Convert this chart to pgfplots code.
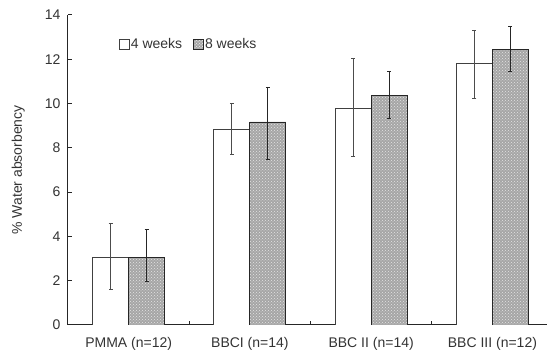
\documentclass[border=0pt]{standalone}
\usepackage{fontspec}
\setmainfont{Liberation Sans}
\usepackage{pgfplots}
\pgfplotsset{compat=1.18}
\usetikzlibrary{patterns}
\begin{document}
\begin{tikzpicture}
\begin{axis}[
  scale only axis, width=479pt, height=310pt,
  xmin=-0.5, xmax=3.45, ymin=0, ymax=14,
  axis lines*=left,
  axis line style={line width=1pt, black!85},
  ybar=0pt, bar width=36pt,
  xtick={0,1,2,3},
  xticklabels={PMMA (n=12), BBCI (n=14), BBC II (n=14), BBC III (n=12)},
  minor xtick={0.5,1.5,2.5},
  ytick={0,2,...,14},
  tick align=inside,
  major x tick style={draw=none},
  tick style={black!85, line width=1pt},
  major tick length=4pt, minor tick length=4pt,
  /pgf/number format/assume math mode=true,
  tick label style={font=\fontsize{14}{17}\selectfont, text=black!80},
  yticklabel style={xshift=-4pt},
  xticklabel style={yshift=-9pt},
  ylabel={\% Water absorbency},
  ylabel style={at={(axis description cs:-0.104,0.5)}, anchor=center, font=\fontsize{14}{17}\selectfont, text=black!80},
  legend style={at={(axis description cs:0.1,0.905)}, anchor=west, legend columns=2, draw=none, fill=none,
    font=\fontsize{14}{17}\selectfont, text=black!80,
    /tikz/every even column/.append style={column sep=10pt},
    nodes={inner sep=1pt}},
  error bars/y dir=both, error bars/y explicit,
]
\addplot[fill=white, draw=black!75, line width=0.8pt,
  legend image code/.code={\draw[fill=white, draw=black!75, line width=0.8pt] (0pt,-5pt) rectangle (10pt,5pt);},
  error bars/error bar style={black!70, line width=0.9pt},
  error bars/error mark options={rotate=90, mark size=2pt, black!70, line width=0.9pt}]
coordinates {
  (0,3.04) += (0,1.56) -= (0,1.44)
  (1,8.85) += (0,1.15) -= (0,1.15)
  (2,9.8) += (0,2.25) -= (0,2.2)
  (3,11.8) += (0,1.5) -= (0,1.55)
};
\addlegendentry{4 weeks}
\addplot[fill=gray!70, draw=black!85, line width=0.8pt,
  postaction={pattern=crosshatch dots, pattern color=white!80!gray},
  legend image code/.code={\draw[fill=gray!70, draw=black!85, line width=0.8pt, postaction={pattern=crosshatch dots, pattern color=white!80!gray}] (0pt,-5pt) rectangle (10pt,5pt);},
  error bars/error bar style={black!85, line width=0.9pt},
  error bars/error mark options={rotate=90, mark size=2pt, black!85, line width=0.9pt}]
coordinates {
  (0,3.04) += (0,1.26) -= (0,1.09)
  (1,9.17) += (0,1.58) -= (0,1.7)
  (2,10.35) += (0,1.12) -= (0,1.0)
  (3,12.45) += (0,1.05) -= (0,1.0)
};
\addlegendentry{8 weeks}
\end{axis}
\pgfresetboundingbox
\path ([shift={(-68pt,-38pt)}]current axis.south west) rectangle ([shift={(0pt,15pt)}]current axis.north east);
\end{tikzpicture}
\end{document}
